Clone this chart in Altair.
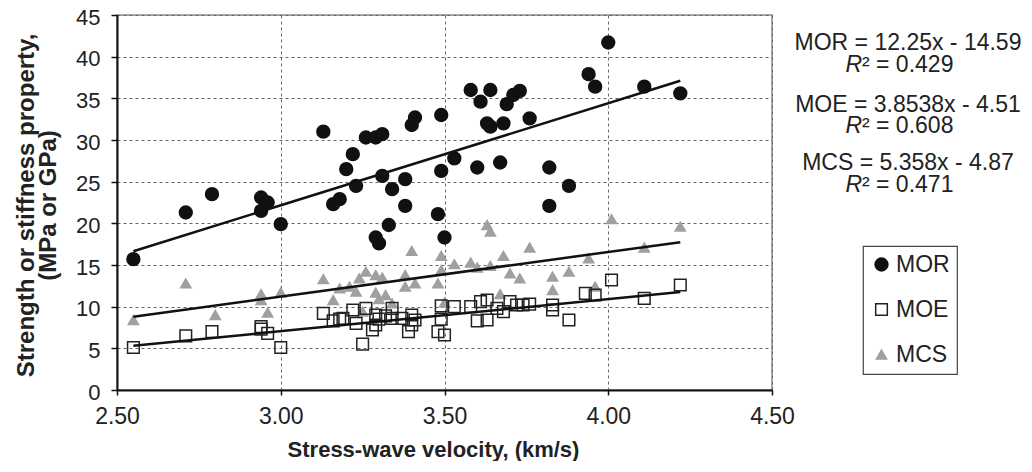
import altair as alt
import pandas as pd

series_names = ["MOR", "MOE", "MCS"]

mor_x = [2.55, 2.71, 2.79, 2.94, 2.96, 2.94, 3.00, 3.13, 3.16, 3.18, 3.20, 3.22, 3.23, 3.26,
         3.29, 3.31, 3.31, 3.29, 3.30, 3.33, 3.34, 3.38, 3.38, 3.40, 3.41, 3.48, 3.49, 3.49,
         3.50, 3.53, 3.58, 3.60, 3.61, 3.63, 3.64, 3.64, 3.67, 3.68, 3.69, 3.71, 3.73, 3.76,
         3.82, 3.82, 3.88, 3.94, 3.96, 4.00, 4.11, 4.22]
mor_y = [15.7, 21.3, 23.5, 23.1, 22.5, 21.5, 19.9, 31.0, 22.3, 22.9, 26.5, 28.3, 24.5, 30.3,
         30.3, 30.7, 25.7, 18.3, 17.6, 19.8, 24.1, 25.3, 22.1, 31.8, 32.7, 21.1, 33.0, 26.3,
         18.3, 27.8, 36.0, 26.7, 34.6, 32.0, 36.0, 31.6, 27.3, 32.0, 34.3, 35.4, 35.9, 32.6,
         26.7, 22.1, 24.5, 37.9, 36.4, 41.7, 36.4, 35.6]

moe_x = [2.55, 2.71, 2.79, 2.94, 2.94, 2.96, 3.00, 3.13, 3.16, 3.18, 3.19, 3.22, 3.23, 3.25,
         3.26, 3.28, 3.29, 3.29, 3.30, 3.32, 3.34, 3.34, 3.37, 3.39, 3.40, 3.40, 3.41, 3.48,
         3.49, 3.49, 3.50, 3.53, 3.58, 3.60, 3.61, 3.63, 3.63, 3.66, 3.68, 3.70, 3.72, 3.74,
         3.76, 3.83, 3.83, 3.88, 3.93, 3.96, 4.01, 4.11, 4.22]
moe_y = [5.1, 6.5, 7.0, 7.6, 7.3, 6.8, 5.1, 9.2, 8.3, 8.5, 8.6, 9.6, 8.0, 5.5,
         9.8, 7.2, 9.0, 7.8, 8.5, 8.9, 9.8, 8.6, 8.6, 7.0, 7.8, 9.0, 8.4, 7.0,
         10.1, 8.5, 6.6, 10.0, 10.0, 8.3, 10.6, 10.8, 8.4, 9.8, 9.4, 10.6, 10.2, 10.2,
         10.3, 10.2, 9.6, 8.4, 11.6, 11.4, 13.2, 11.0, 12.6]

mcs_x = [2.55, 2.71, 2.80, 2.94, 2.94, 2.96, 3.00, 3.13, 3.16, 3.18, 3.21, 3.23, 3.24, 3.25,
         3.26, 3.29, 3.29, 3.30, 3.31, 3.32, 3.34, 3.38, 3.38, 3.40, 3.41, 3.48, 3.49, 3.49,
         3.50, 3.53, 3.58, 3.60, 3.63, 3.64, 3.64, 3.68, 3.67, 3.70, 3.73, 3.76, 3.83, 3.83,
         3.88, 3.94, 3.96, 4.01, 4.11, 4.22]
mcs_y = [8.4, 12.8, 9.0, 11.5, 10.8, 9.3, 11.7, 13.3, 10.8, 12.2, 12.4, 11.8, 13.4, 9.4,
         14.2, 13.8, 11.7, 10.9, 13.5, 11.4, 10.4, 13.8, 12.4, 16.7, 12.8, 12.8, 16.1, 14.4,
         10.5, 15.1, 15.3, 14.7, 19.8, 19.0, 14.9, 16.1, 11.5, 14.0, 13.4, 17.1, 13.6, 12.0,
         14.2, 15.8, 12.4, 20.5, 17.1, 19.6]

slopes = [12.25, 3.8538, 5.358]
intercepts = [-14.59, -4.51, -4.87]
equation_labels = ["MOR = 12.25x - 14.59", "MOE = 3.8538x - 4.51", "MCS = 5.358x - 4.87"]
r2_labels = ["0.429", "0.608", "0.471"]

x_ticks = [2.5, 3.0, 3.5, 4.0, 4.5]
y_ticks = [0, 5, 10, 15, 20, 25, 30, 35, 40, 45]

FONT = "Liberation Sans"

xs = {"MOR": mor_x, "MOE": moe_x, "MCS": mcs_x}
ys = {"MOR": mor_y, "MOE": moe_y, "MCS": mcs_y}

rows = []
for name in ["MOR", "MCS", "MOE"]:
    for a, b in zip(xs[name], ys[name]):
        rows.append({"velocity": a, "value": b, "series": name})
points_df = pd.DataFrame(rows)

line_rows = []
for name, m, c in zip(series_names, slopes, intercepts):
    for a in (min(xs[name]), max(xs[name])):
        line_rows.append({"velocity": a, "value": m * a + c, "series": name})
lines_df = pd.DataFrame(line_rows)

x_enc = alt.X("velocity:Q",
              scale=alt.Scale(domain=[2.5, 4.5], nice=False, zero=False, padding=0),
              axis=alt.Axis(values=x_ticks, format=".2f", title="Stress-wave velocity, (km/s)",
                            labelFlush=False, tickSize=5, labelPadding=10, labelFontSize=23,
                            titleX=316, titleAlign="center", titleY=66, titleBaseline="alphabetic",
                            titleFontSize=22))
y_enc = alt.Y("value:Q",
              scale=alt.Scale(domain=[0, 45], nice=False, padding=0),
              axis=alt.Axis(values=y_ticks, title=["Strength or stiffness property,", "(MPa or GPa)"],
                            labelFlush=False, labelOffset=2, labelFontSize=22,
                            tickSize=6, labelPadding=11, titleAngle=270, titleX=-91, titleY=190,
                            titleAlign="center", titleBaseline="middle", titleLineHeight=22,
                            titleFontSize=24))

points = alt.Chart(points_df).mark_point(filled=True, strokeWidth=1.5, opacity=1).encode(
    x=x_enc,
    y=y_enc,
    shape=alt.Shape("series:N", scale=alt.Scale(domain=series_names,
                                                range=["circle", "square", "triangle-up"]), title=None),
    fill=alt.Fill("series:N", scale=alt.Scale(domain=series_names,
                                              range=["#111111", "transparent", "#a0a0a0"]), title=None),
    stroke=alt.Stroke("series:N", scale=alt.Scale(domain=series_names,
                                                  range=["#111111", "#222222", "#a0a0a0"]), title=None),
    size=alt.Size("series:N", scale=alt.Scale(domain=series_names, range=[165, 105, 210]), title=None),
)

lines = alt.Chart(lines_df).mark_line(color="#111111", strokeWidth=2.5).encode(
    x="velocity:Q", y="value:Q", detail="series:N"
)

layers = [points, lines]
blank = alt.Data(values=[{}])
eq_base = [35, 97, 155]
r2_base = [57, 118, 177]
for i in range(3):
    layers.append(alt.Chart(blank).mark_text(font=FONT, fontSize=23, align="center",
                                             baseline="alphabetic", color="#222222").encode(
        x=alt.value(791), y=alt.value(eq_base[i]), text=alt.value(equation_labels[i])))
    layers.append(alt.Chart(blank).mark_text(font=FONT, fontSize=23, fontStyle="italic", align="right",
                                             baseline="alphabetic", color="#222222").encode(
        x=alt.value(745), y=alt.value(r2_base[i]), text=alt.value("R")))
    layers.append(alt.Chart(blank).mark_text(font=FONT, fontSize=23, align="left",
                                             baseline="alphabetic", color="#222222").encode(
        x=alt.value(745), y=alt.value(r2_base[i]), text=alt.value("\u00b2 = " + r2_labels[i])))

chart = alt.layer(*layers).properties(
    width=655, height=375,
    autosize=alt.AutoSizeParams(type="none"),
    padding={"left": 109, "top": 7, "right": 252, "bottom": 71},
).configure_view(
    stroke="#8a8a8a", strokeWidth=1.5
).configure_axis(
    labelFont=FONT, labelColor="#222222",
    titleFont=FONT, titleFontWeight="bold", titleColor="#222222",
    domainColor="#111111", domainWidth=2, tickColor="#111111", tickWidth=1.5,
    gridColor="#666666", gridDash=[3, 3], gridWidth=1,
).configure_legend(
    orient="none", legendX=746, legendY=231,
    strokeColor="#444444", strokeWidth=1.2, fillColor="white", padding=7,
    rowPadding=21, labelFont=FONT, labelFontSize=23, labelColor="#222222", labelOffset=3,
    symbolStrokeWidth=1.5,
)

chart.save("out.html", embed_options={"renderer": "svg", "actions": False})
